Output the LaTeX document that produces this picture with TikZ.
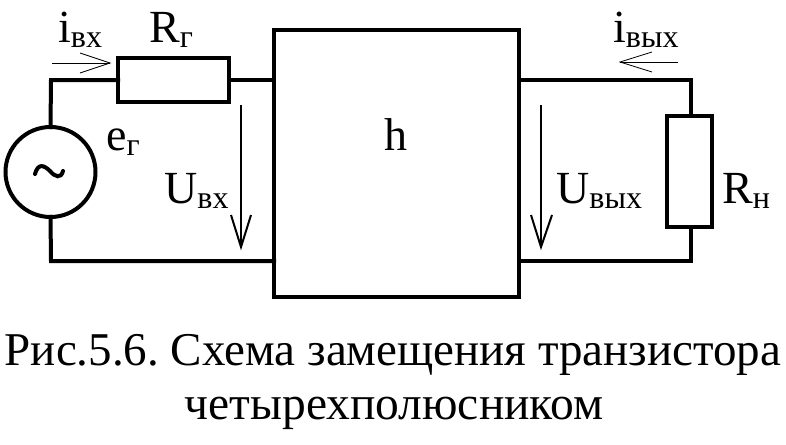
\documentclass[tikz,border=0pt]{standalone}
\usepackage{fontspec}
\setmainfont{Liberation Serif}
\frenchspacing
\newcommand{\lbl}[2]{{\fontsize{46}{46}\selectfont #1}\raisebox{-5.5pt}{\fontsize{32}{32}\selectfont #2}}
\begin{document}
\begin{tikzpicture}[x=1pt,y=-1pt,
  wire/.style={line width=4pt,line cap=rect},
  box/.style={draw,line width=4pt,fill=white,inner sep=0pt,outer sep=0pt,minimum width=#1},
  thick arrow/.style={line width=2pt},
  thin arrow/.style={line width=0.8pt},
  txt/.style={inner sep=0pt,anchor=base west},
  caption/.style={inner sep=0pt,anchor=base,font=\fontsize{#1}{#1}\selectfont}]
\useasboundingbox (0,0) rectangle (786,444);
\fill[white] (0,0) rectangle (786,444);
% nodes
\node[box=245pt,minimum height=267pt] (H) at (396.5,163.5) {};
\node[box=111pt,minimum height=44pt] (RG) at (173.5,80) {};
\node[box=45pt,minimum height=111pt] (RN) at (689.5,171.5) {};
\node[circle,draw,line width=4pt,fill=white,minimum size=90pt,inner sep=0pt,outer sep=0pt] (G) at (50.5,172) {};
\coordinate (TL) at (51,80);
\coordinate (BL) at (51,261);
\coordinate (TR) at (691,80);
\coordinate (BR) at (691,261);
\coordinate (HTL) at (274,80);
\coordinate (HBL) at (274,261);
\coordinate (HTR) at (519,80);
\coordinate (HBR) at (519,261);
% wires
\draw[wire] (G.north) -- (TL) -- (RG.west |- TL);
\draw[wire] (RG.east |- TL) -- (HTL);
\draw[wire] (G.south) -- (BL) -- (HBL);
\draw[wire] (HTR) -- (TR) -- (RN.north -| TR);
\draw[wire] (RN.south -| BR) -- (BR) -- (HBR);
% tilde
\draw[line width=4pt,line cap=round] (35,174) .. controls (38,163) and (44,165) .. (50,171) .. controls (55,177) and (61,179) .. (63,171);
% voltage arrows
\coordinate (UIa) at (241,105); \coordinate (UIb) at (241,247);
\coordinate (UIc) at (231,215); \coordinate (UId) at (251,215);
\draw[thick arrow] (UIa) -- (UIb);
\draw[thick arrow] (UIc) -- (UIb) -- (UId);
\coordinate (UOa) at (541,105); \coordinate (UOb) at (541,247);
\coordinate (UOc) at (531,215); \coordinate (UOd) at (552,215);
\draw[thick arrow] (UOa) -- (UOb);
\draw[thick arrow] (UOc) -- (UOb) -- (UOd);
% current arrows
\coordinate (IIa) at (52,63); \coordinate (IIb) at (110,63);
\coordinate (IIc) at (80,53); \coordinate (IId) at (80,73);
\draw[thin arrow] (IIa) -- (IIb);
\draw[thin arrow] (IIc) -- (IIb) -- (IId);
\coordinate (IOa) at (678,62); \coordinate (IOb) at (620,62);
\coordinate (IOc) at (652,52); \coordinate (IOd) at (652,72);
\draw[thin arrow] (IOa) -- (IOb);
\draw[thin arrow] (IOc) -- (IOb) -- (IOd);
% labels
\node[txt] (Lii) at (58,42) {\lbl{i}{вх}};
\node[txt] (Lrg) at (149,42) {\lbl{R}{г}};
\node[txt] (Leg) at (106,150) {\lbl{e}{г}};
\node[txt] (Lui) at (164,203) {\lbl{U}{вх}};
\node[txt] (Lio) at (613,42) {\lbl{i}{вых}};
\node[txt] (Luo) at (556,203) {\lbl{U}{вых}};
\node[txt] (Lrn) at (722,203) {\lbl{R}{н}};
\node[txt] (Lh) at (384,150) {\fontsize{46}{46}\selectfont h};
\node[caption=47] (C1) at (393,365) {Рис.5.6. Схема замещения транзистора};
\node[caption=47.5] (C2) at (394,419) {четырехполюсником};
\end{tikzpicture}
\end{document}
